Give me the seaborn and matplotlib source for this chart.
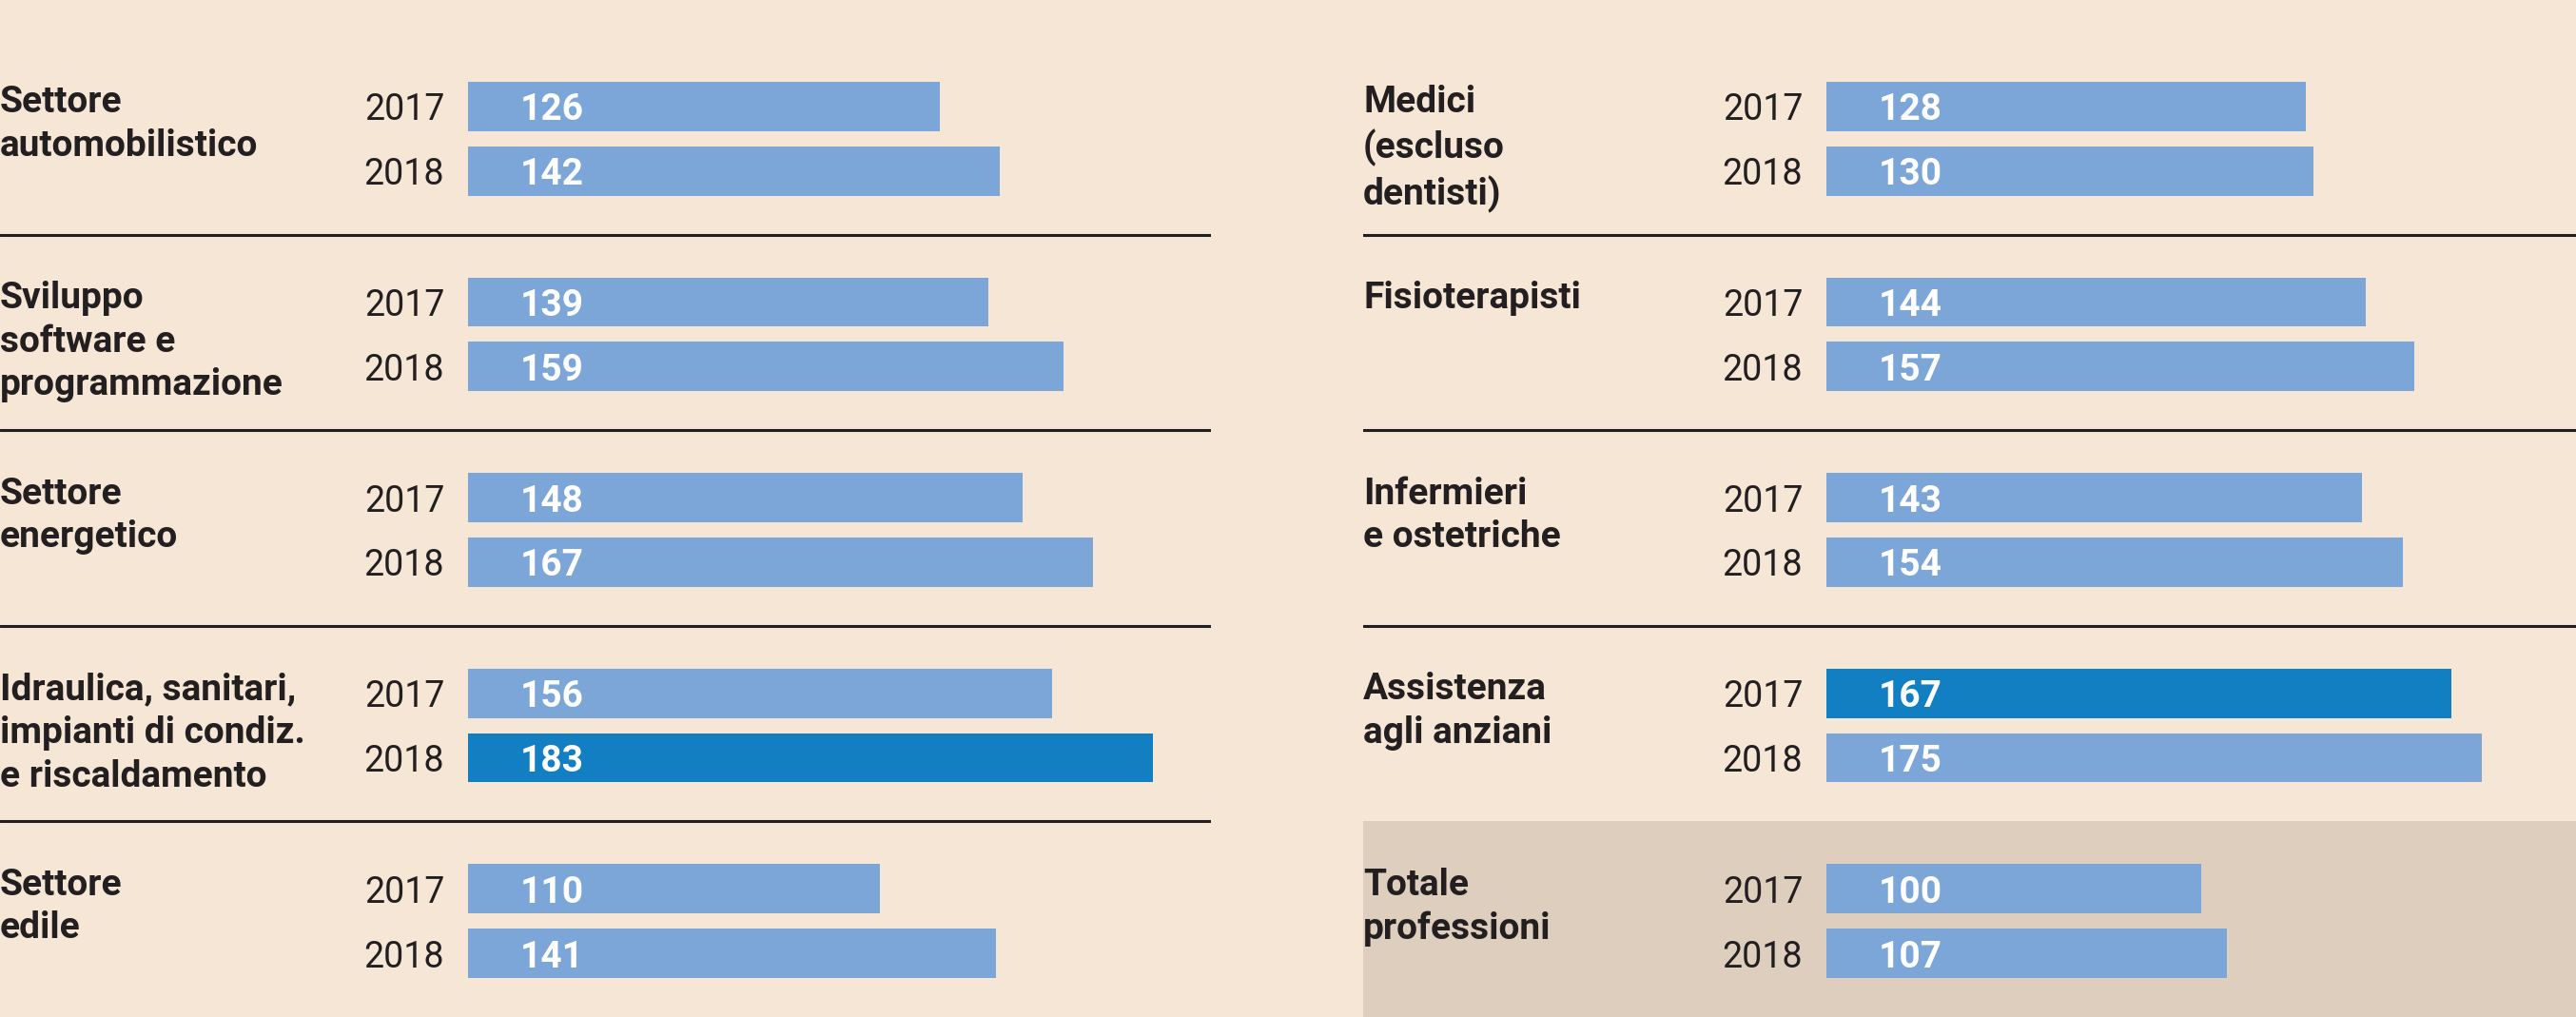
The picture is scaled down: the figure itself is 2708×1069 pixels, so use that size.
import pandas as pd
import numpy as np
import seaborn as sns
import matplotlib.pyplot as plt

left_labels = ["Settore\nautomobilistico", "Sviluppo\nsoftware e\nprogrammazione",
               "Settore\nenergetico", "Idraulica, sanitari,\nimpianti di condiz.\ne riscaldamento",
               "Settore\nedile"]
left_2017 = [126, 139, 148, 156, 110]
left_2018 = [142, 159, 167, 183, 141]

right_labels = ["Medici\n(escluso\ndentisti)", "Fisioterapisti", "Infermieri\ne ostetriche",
                "Assistenza\nagli anziani", "Totale\nprofessioni"]
right_2017 = [128, 144, 143, 167, 100]
right_2018 = [130, 157, 154, 175, 107]

years = ["2017", "2018"]
# bars drawn in the darker blue: (panel, group, year)
highlight = [("left", 3, "2018"), ("right", 3, "2017")]

bg = "#f6e6d6"
light_blue = "#7ba6d7"
dark_blue = "#127fc3"
box_color = "#decebe"
ink = "#231f20"

sns.set_theme(style="white")
plt.rcParams['font.family'] = ['Roboto', 'DejaVu Sans']

rows = []
for panel, v17, v18 in [("left", left_2017, left_2018), ("right", right_2017, right_2018)]:
    for g in range(5):
        for k, (yr, v) in enumerate(zip(years, [v17[g], v18[g]])):
            rows.append({"panel": panel, "group": g, "year": yr, "value": v,
                         "pos": g + (0.345 if k == 0 else 0.675),
                         "hl": (panel, g, yr) in highlight})
df = pd.DataFrame(rows)

W, H = 2708, 1069
fig = plt.figure(figsize=(W / 100, H / 100), dpi=100, facecolor=bg)
top = (H - 41) / H
ax_l = fig.add_axes([0, 0, 1273 / W, top])
ax_r = fig.add_axes([1433 / W, 0, 1275 / W, top])

px_per_unit = 3.937
for ax, panel, labels, zero_px, width_px in [(ax_l, "left", left_labels, 492, 1273),
                                             (ax_r, "right", right_labels, 487, 1275)]:
    ax.set_facecolor("none")
    sub = df[df.panel == panel]
    if panel == "right":
        ax.axhspan(4, 5, color=box_color, lw=0, zorder=0)
    sns.barplot(data=sub, x="value", y="pos", hue="hl", orient="h", native_scale=True,
                palette={False: light_blue, True: dark_blue}, saturation=1, dodge=False,
                legend=False, errorbar=None, width=0.252 / 0.33, linewidth=0, ax=ax, zorder=2)
    ax.set_xlim(-zero_px / px_per_unit, (width_px - zero_px) / px_per_unit)
    ax.set_ylim(5, 0)
    for y in [1, 2, 3, 4]:
        if panel == "right" and y == 4:
            continue
        ax.axhline(y, color=ink, lw=2.2, zorder=1)
    for g, lab in enumerate(labels):
        ax.text(0, g + 0.235, lab, transform=ax.get_yaxis_transform(), ha="left", va="top",
                fontsize=28, fontweight="bold", color=ink, linespacing=1.3)
    for _, r in sub.iterrows():
        ax.text(-6.3, r.pos, r.year, ha="right", va="center_baseline", fontsize=27, color=ink)
        ax.text(14.0, r.pos, str(r.value), ha="left", va="center_baseline", fontsize=28,
                fontweight="bold", color="white", zorder=3)
    ax.set_axis_off()

fig.savefig("out.png", dpi=100, facecolor=bg)
